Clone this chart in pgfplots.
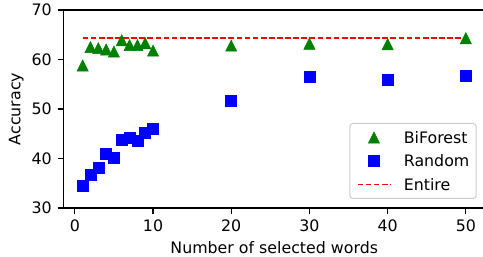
\documentclass[border=0pt]{standalone}
\usepackage{pgfplots}
\pgfplotsset{compat=1.18}
\usepackage{fontspec}
\setmainfont{DejaVu Sans}
\pgfdeclareplotmark{mpltri}{%
  \pgfpathmoveto{\pgfqpoint{0pt}{\pgfplotmarksize}}%
  \pgfpathlineto{\pgfqpoint{-\pgfplotmarksize}{-\pgfplotmarksize}}%
  \pgfpathlineto{\pgfqpoint{\pgfplotmarksize}{-\pgfplotmarksize}}%
  \pgfpathclose
  \pgfusepathqfillstroke}
\definecolor{mplgreen}{RGB}{0,128,0}
\definecolor{mplblue}{RGB}{0,0,255}
\definecolor{mplred}{RGB}{255,0,0}
\definecolor{legedge}{RGB}{204,204,204}
\pgfplotsset{
  markleg/.style={legend image code/.code={\path (0pt,0pt) (33pt,0pt); \draw[##1] plot coordinates {(16.5pt,0pt)};}},
  lineleg/.style={legend image code/.code={\draw[##1] (0pt,0pt) -- (33pt,0pt);}},
}
\begin{document}
\begin{tikzpicture}
\useasboundingbox (-63.5pt,-49pt) rectangle (419.5pt,208pt);
\begin{axis}[
  at={(0pt,0pt)}, anchor=south west,
  scale only axis, width=421.5pt, height=198pt,
  xmin=-1.45, xmax=52.45, ymin=30, ymax=70,
  xtick={0,10,20,30,40,50}, ytick={30,40,50,60,70},
  tick align=outside, tick pos=left, major tick length=5.6pt,
  tick style={black, line width=1.1pt},
  axis line style={line width=1.1pt, black},
  font=\fontsize{15.8}{19}\selectfont,
  /pgf/number format/assume math mode=true,
  xticklabel style={anchor=base, inner sep=0pt, yshift=-18.1pt},
  yticklabel style={anchor=east, inner sep=0pt, xshift=-5.9pt},
  xlabel={Number of selected words},
  ylabel={Accuracy},
  every axis x label/.style={at={([yshift=-45.3pt]axis description cs:0.5,0)}, anchor=base},
  every axis y label/.style={at={([xshift=-43pt]axis description cs:0,0.5)}, rotate=90, anchor=base},
  legend cell align=left,
  legend style={at={(0.9803,0.04545)}, anchor=south east,
    draw=legedge, line width=1pt, rounded corners=3pt, fill=white,
    inner xsep=6.9pt, inner ysep=6.8pt, row sep=9.1pt,
    font=\fontsize{15.8}{19}\selectfont,
    nodes={inner sep=0pt, text height=13pt, text depth=1.4pt},
    /tikz/every odd column/.append style={column sep=12.6pt}},
]
\addplot[only marks, mark=mpltri, mark size=5.6pt, color=mplgreen, fill=mplgreen, line width=0.5pt, markleg]
  coordinates {(1,58.8)(2,62.5)(3,62.3)(4,62.0)(5,61.6)(6,63.9)(7,62.9)(8,62.9)(9,63.3)(10,61.8)(20,62.8)(30,63.2)(40,63.1)(50,64.3)};
\addlegendentry{BiForest}
\addplot[only marks, mark=square*, mark size=5.5pt, color=mplblue, fill=mplblue, line width=0.5pt, markleg]
  coordinates {(1,34.4)(2,36.7)(3,38.1)(4,40.9)(5,40.1)(6,43.8)(7,44.2)(8,43.5)(9,45.2)(10,46.0)(20,51.7)(30,56.5)(40,56.0)(50,56.7)};
\addlegendentry{Random}
\addplot[no marks, color=mplred, line width=1.5pt, dash pattern=on 5.7pt off 2.4pt, lineleg]
  coordinates {(1,64.3)(50,64.3)};
\addlegendentry{Entire}
\end{axis}
\end{tikzpicture}
\end{document}
